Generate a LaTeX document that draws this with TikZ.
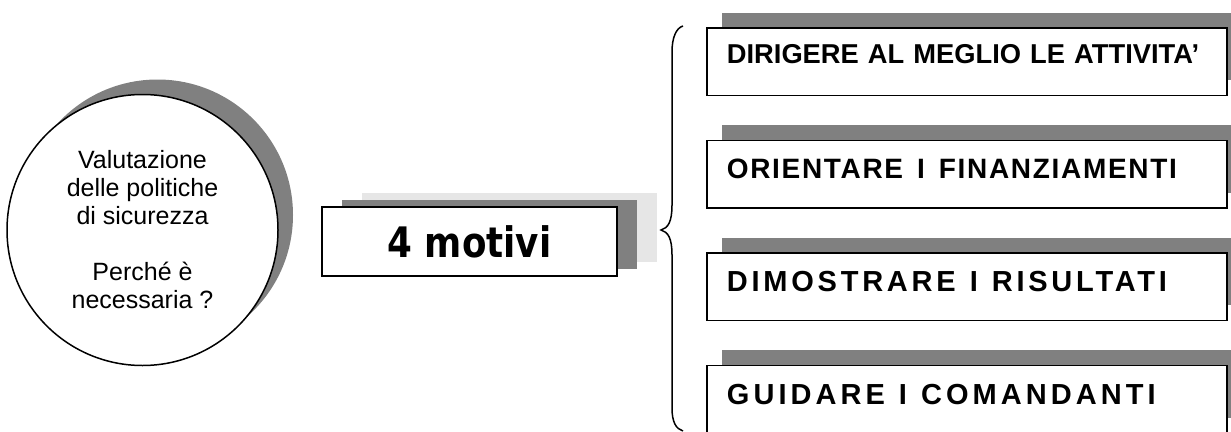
\documentclass[tikz,border=0pt]{standalone}
\usepackage{fontspec}
\usepackage{graphicx}
\setmainfont{Liberation Sans}
\newfontfamily\motivifont{DejaVu Sans}
\newfontfamily\spA{Liberation Sans}[LetterSpace=6]
\newfontfamily\spB{Liberation Sans}[LetterSpace=13]
\newfontfamily\spC{Liberation Sans}[LetterSpace=14]
\newcommand{\wsp}{\hspace*{14pt}}
\usetikzlibrary{shadows}
\definecolor{shgray}{RGB}{128,128,128}
\definecolor{ltgray}{RGB}{230,230,230}
\begin{document}
\begin{tikzpicture}[x=1pt,y=-1pt,
  shadowed/.style={general shadow={shadow xshift=15pt, shadow yshift=15pt, fill=shgray, draw=none}},
  rbox/.style={draw, line width=1.8pt, fill=white, anchor=north west, inner xsep=20pt, inner ysep=0pt,
    text width=480pt, align=left, shadowed},
  bracestyle/.style={line width=1.5pt}
]
\useasboundingbox (0,0) rectangle (1231,431);
\clip (0,0) rectangle (1231,431);

% circle
\node[circle, draw, line width=1.5pt, fill=white, minimum size=271pt, inner sep=0pt, shadowed,
  align=center, font=\fontsize{25}{28}\selectfont] (c) at (142.5,230)
  {Valutazione\\delle politiche\\di sicurezza\\[28pt]Perché è\\necessaria ?};

% 4 motivi
\node[draw, line width=1.8pt, fill=white, minimum width=295pt, minimum height=69pt, inner sep=0pt,
  general shadow={shadow xshift=40pt, shadow yshift=14pt, fill=ltgray, draw=none},
  general shadow={shadow xshift=20pt, shadow yshift=7pt, fill=shgray, draw=none}] (m) at (469.5,241.5)
  {\scalebox{0.85}[1]{\motivifont\fontsize{42}{48}\selectfont\bfseries 4 motivi}};

% right boxes
\node[rbox, text height=36pt, text depth=31.5pt, font=\fontsize{27.3}{30}\selectfont\bfseries] (b1) at (706,27)
  {DIRIGERE AL MEGLIO LE ATTIVITA'};
\node[rbox, text height=38pt, text depth=29.5pt, font=\spA\fontsize{28}{30}\selectfont\bfseries] (b2) at (706,139.5)
  {ORIENTARE\wsp I\wsp FINANZIAMENTI};
\node[rbox, text height=39pt, text depth=28.5pt, font=\spB\fontsize{29}{30}\selectfont\bfseries] (b3) at (706,252)
  {DIMOSTRARE\wsp I\wsp RISULTATI};
\node[rbox, text height=39pt, text depth=28.5pt, font=\spC\fontsize{29}{30}\selectfont\bfseries] (b4) at (706,364.5)
  {GUIDARE\wsp I\wsp COMANDANTI};

% brace
\coordinate (brtop) at (683,26);
\coordinate (brtip) at (661,230);
\coordinate (brbot) at (683,431);
\draw[bracestyle] (brtop) .. controls (676,28) and (672,38) .. (672,52) -- (672,205)
  .. controls (672,222) and (668,228) .. (brtip)
  .. controls (668,232) and (672,238) .. (672,255) -- (672,408)
  .. controls (672,422) and (676,429) .. (brbot);
\end{tikzpicture}
\end{document}
